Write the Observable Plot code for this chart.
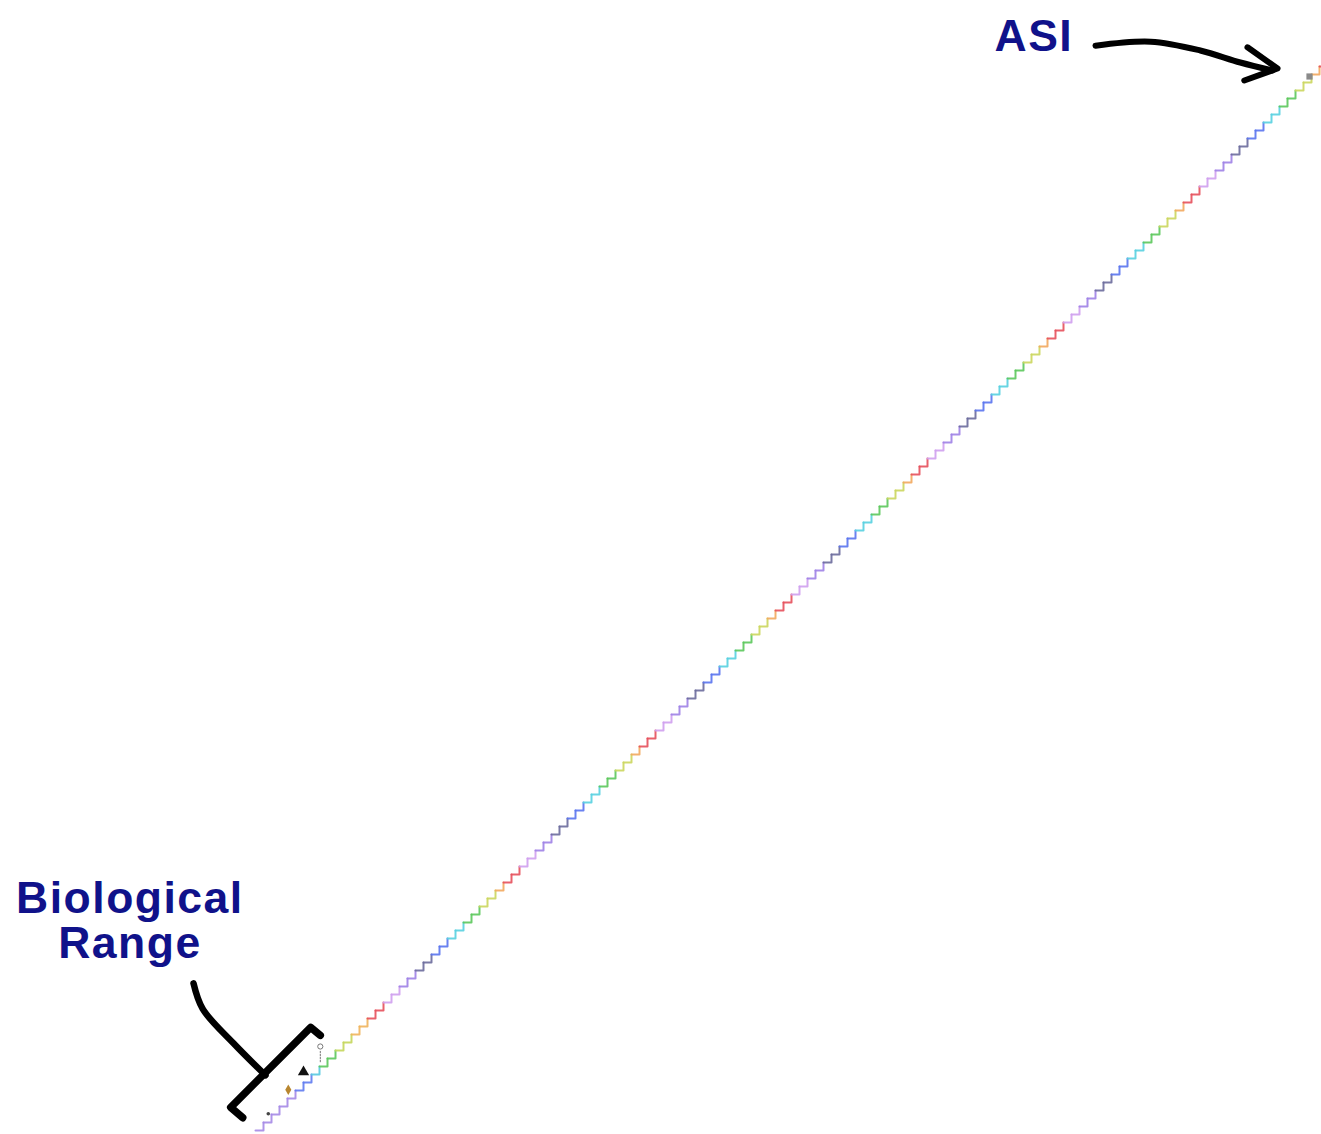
<!DOCTYPE html>
<html>
<head>
<meta charset="utf-8">
<script src="https://cdn.jsdelivr.net/npm/d3@7"></script>
<script src="https://cdn.jsdelivr.net/npm/@observablehq/plot@0.6"></script>
<style>
  html, body { margin: 0; padding: 0; background: #fff; }
  #chart svg { display: block; }
</style>
</head>
<body>
<div id="chart"></div>
<script>
// ---- data -------------------------------------------------------------
// Staircase of intelligence: one step per level
const stepCount = 134;
// colour runs of the lowest (biological) steps: [colour, number of steps]
const introColors = ["#a58ae6", "#5f7bf0", "#58c9e0", "#5cc85c", "#c4d65c", "#f0b45c"];
const introRunLengths = [5, 2, 1, 2, 2, 2];
// repeating rainbow cycle after that
const cycleColors = ["#e6505c", "#cfa0ee", "#9f82e6", "#6b6b9c", "#5a74ee", "#58d0e0", "#5cc85c", "#cbd65e", "#f2a95e"];
const cycleRunLengths = [2, 2, 2, 2, 2, 2, 2, 2, 1];

// labels
const labelTexts = ["ASI", "Biological", "Range"];
const labelX = [97.3, -15.7, -15.7];
const labelY = [135, 27.25, 21.6];

// creatures on the lowest steps
const creatureNames = ["ant", "bird", "chimp", "human"];
const creatureX = [1.6, 4.1, 6.0, 8.1];
const creatureY = [2.1, 5.1, 7.3, 10.5];
const creatureColors = ["#444", "#b8862f", "#111", "#fff"];

// ASI marker on the staircase
const asiMarkerX = [131.75];
const asiMarkerY = [131.75];

// hand-drawn bracket and arrows (in step units)
const bracketBarX = [8.1, 6.9, -3.1, -1.6];
const bracketBarY = [11.9, 12.9, 2.9, 1.6];
const bracketStemX = [-7.75, -6.6, -2.75, 1.25];
const bracketStemY = [18.4, 15.2, 10.9, 6.9];
const asiShaftX = [105, 111.9, 118.1, 123.1, 127.1];
const asiShaftY = [135.6, 136.1, 135.0, 133.5, 132.5];
const asiHeadX = [124.0, 127.75, 123.6];
const asiHeadY = [135.4, 132.75, 131.25];
const humanBodyX = [8.1, 8.1];
const humanBodyY = [9.9, 8.5];

// ---- build tables ------------------------------------------------------
const stepColor = [];
introColors.forEach((c, k) => { for (let j = 0; j < introRunLengths[k]; j++) stepColor.push(c); });
while (stepColor.length < stepCount) {
  for (let k = 0; k < cycleColors.length && stepColor.length < stepCount; k++)
    for (let j = 0; j < cycleRunLengths[k] && stepColor.length < stepCount; j++) stepColor.push(cycleColors[k]);
}
const stairRows = [];
stepColor.forEach((c, i) => {
  stairRows.push({step: i, x: i, y: i, color: c});
  stairRows.push({step: i, x: i + 1, y: i, color: c});
  stairRows.push({step: i, x: i + 1, y: i + 1, color: c});
});
const labels = labelTexts.map((t, i) => ({t, x: labelX[i], y: labelY[i]}));
const creatures = creatureNames.map((n, i) => ({n, x: creatureX[i], y: creatureY[i], c: creatureColors[i]}));
const pts = (xs, ys) => xs.map((x, i) => ({x, y: ys[i]}));

const chart = Plot.plot({
  width: 1321,
  height: 1134,
  margin: 0,
  x: {domain: [-31.875, 133.25], range: [0, 1321], axis: null},
  y: {domain: [-0.5, 141.25], range: [1134, 0], axis: null},
  color: {type: "identity"},
  style: {background: "#fff", fontFamily: "'Liberation Sans', Arial, sans-serif"},
  marks: [
    Plot.line(stairRows, {x: "x", y: "y", z: "step", stroke: "color", strokeWidth: 2, strokeOpacity: 0.9, strokeLinecap: "round", strokeLinejoin: "round"}),
    Plot.dot(pts(asiMarkerX, asiMarkerY), {x: "x", y: "y", symbol: "square", r: 3.5, fill: "#8a8a8a"}),
    // creatures
    Plot.dot(creatures.filter(d => d.n === "ant"), {x: "x", y: "y", r: 1.8, fill: "c"}),
    Plot.dot(creatures.filter(d => d.n === "bird"), {x: "x", y: "y", r: 3.2, fill: "c", symbol: "diamond"}),
    Plot.dot(creatures.filter(d => d.n === "chimp"), {x: "x", y: "y", r: 4.2, fill: "c", symbol: "triangle"}),
    Plot.line(pts(humanBodyX, humanBodyY), {x: "x", y: "y", stroke: "#777", strokeWidth: 1, strokeDasharray: "1.5,1.5"}),
    Plot.dot(creatures.filter(d => d.n === "human"), {x: "x", y: "y", r: 2.6, fill: "c", stroke: "#777", strokeWidth: 1}),
    // bracket
    Plot.line(pts(bracketBarX, bracketBarY), {x: "x", y: "y", stroke: "#000", strokeWidth: 7.5, strokeLinecap: "round", strokeLinejoin: "round"}),
    Plot.line(pts(bracketStemX, bracketStemY), {x: "x", y: "y", stroke: "#000", strokeWidth: 6.5, strokeLinecap: "round", curve: "catmull-rom"}),
    // ASI arrow
    Plot.line(pts(asiShaftX, asiShaftY), {x: "x", y: "y", stroke: "#000", strokeWidth: 6, strokeLinecap: "round", curve: "catmull-rom"}),
    Plot.line(pts(asiHeadX, asiHeadY), {x: "x", y: "y", stroke: "#000", strokeWidth: 6, strokeLinecap: "round", strokeLinejoin: "round"}),
    // labels
    Plot.text(labels, {x: "x", y: "y", text: "t", lineAnchor: "bottom", textAnchor: "middle", fontSize: 44.5, fontWeight: "bold", fill: "#10128a"})
  ]
});
chart.querySelectorAll("text").forEach(t => t.setAttribute("letter-spacing", "1.5"));
document.getElementById("chart").appendChild(chart);
</script>
</body>
</html>
